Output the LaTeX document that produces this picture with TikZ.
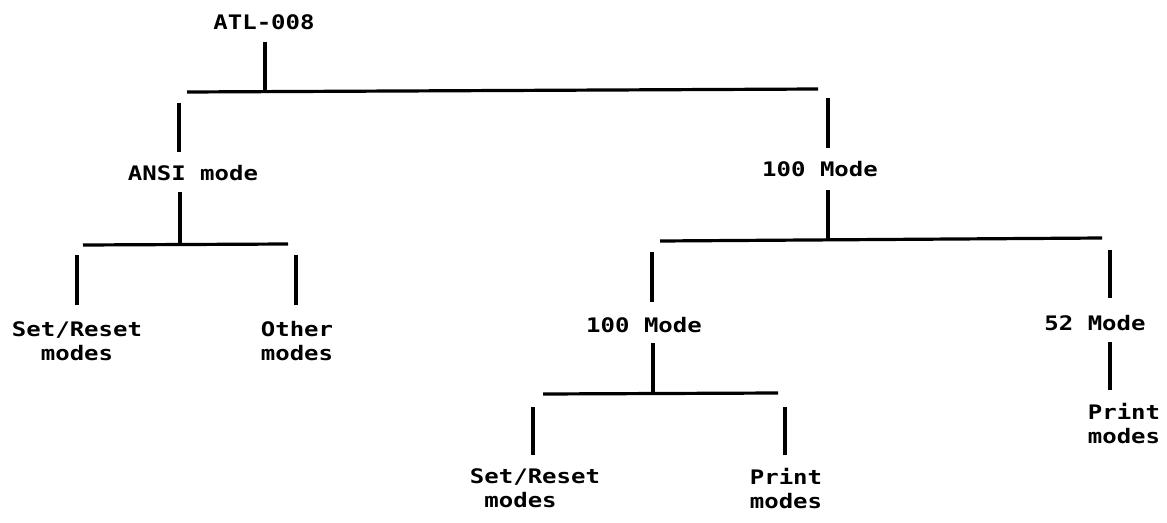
\documentclass[tikz,border=0pt]{standalone}
\usepackage{fontspec}
\newfontfamily\plotter[FakeStretch=1.2]{DejaVu Sans Mono}
\begin{document}
\begin{tikzpicture}[x=1pt,y=-1pt,
  lbl/.style={inner sep=0pt, outer sep=0pt, align=left, font=\plotter\bfseries\fontsize{20}{24}\selectfont},
  wire/.style={line width=3.2pt, line cap=butt}]
\useasboundingbox[fill=white] (0,0) rectangle (1167,522);

% labels
\node[lbl] (atl)  at (264,22.5)  {ATL-008};
\node[lbl] (ansi) at (193,173.5) {ANSI mode};
\node[lbl] (hm)   at (820,169.5) {100 Mode};
\node[lbl] (sr1)  at (77,341)    {Set/Reset\\\phantom{Se}modes};
\node[lbl] (oth)  at (297,341)   {Other\\modes};
\node[lbl] (hm2)  at (644,325.5) {100 Mode};
\node[lbl] (m52)  at (1095,323.5){52 Mode};
\node[lbl] (sr2)  at (535,488.5) {Set/Reset\\\phantom{S}modes};
\node[lbl] (pr2)  at (786,488.5) {Print\\modes};
\node[lbl] (pr3)  at (1124,424)  {Print\\modes};

% junction coordinates
\coordinate (atl-d) at (265,42);
\coordinate (b1-j)  at (265,91);
\coordinate (b1-l)  at (187,92);
\coordinate (b1-r)  at (818,89);
\coordinate (ansi-u1) at (179,103);
\coordinate (ansi-u2) at (179,152);
\coordinate (hm-u1) at (828,98);
\coordinate (hm-u2) at (828,148);

\coordinate (ansi-d) at (180,192);
\coordinate (b2-j)   at (180,244);
\coordinate (b2-l)   at (83,245);
\coordinate (b2-r)   at (288,244);
\coordinate (sr1-u1) at (77,255);
\coordinate (sr1-u2) at (77,305);
\coordinate (oth-u1) at (296,255);
\coordinate (oth-u2) at (296,305);

\coordinate (hm-d)   at (828,190);
\coordinate (b3-j)   at (828,240);
\coordinate (b3-l)   at (660,241);
\coordinate (b3-r)   at (1102,238);
\coordinate (hm2-u1) at (652,252);
\coordinate (hm2-u2) at (652,302);
\coordinate (m52-u1) at (1110,250);
\coordinate (m52-u2) at (1110,298);

\coordinate (hm2-d)  at (653,343);
\coordinate (b4-j)   at (653,393);
\coordinate (b4-l)   at (543,394);
\coordinate (b4-r)   at (778,393);
\coordinate (sr2-u1) at (533,407);
\coordinate (sr2-u2) at (533,455);
\coordinate (pr2-u1) at (785,407);
\coordinate (pr2-u2) at (785,455);

\coordinate (m52-d)  at (1110,342);
\coordinate (pr3-u)  at (1110,390);

% connectors
\draw[wire] (atl-d) -- (b1-j);
\draw[wire] (b1-l) -- (b1-r);
\draw[wire] (ansi-u1) -- (ansi-u2);
\draw[wire] (hm-u1) -- (hm-u2);

\draw[wire] (ansi-d) -- (b2-j);
\draw[wire] (b2-l) -- (b2-r);
\draw[wire] (sr1-u1) -- (sr1-u2);
\draw[wire] (oth-u1) -- (oth-u2);

\draw[wire] (hm-d) -- (b3-j);
\draw[wire] (b3-l) -- (b3-r);
\draw[wire] (hm2-u1) -- (hm2-u2);
\draw[wire] (m52-u1) -- (m52-u2);

\draw[wire] (hm2-d) -- (b4-j);
\draw[wire] (b4-l) -- (b4-r);
\draw[wire] (sr2-u1) -- (sr2-u2);
\draw[wire] (pr2-u1) -- (pr2-u2);

\draw[wire] (m52-d) -- (pr3-u);
\end{tikzpicture}
\end{document}
